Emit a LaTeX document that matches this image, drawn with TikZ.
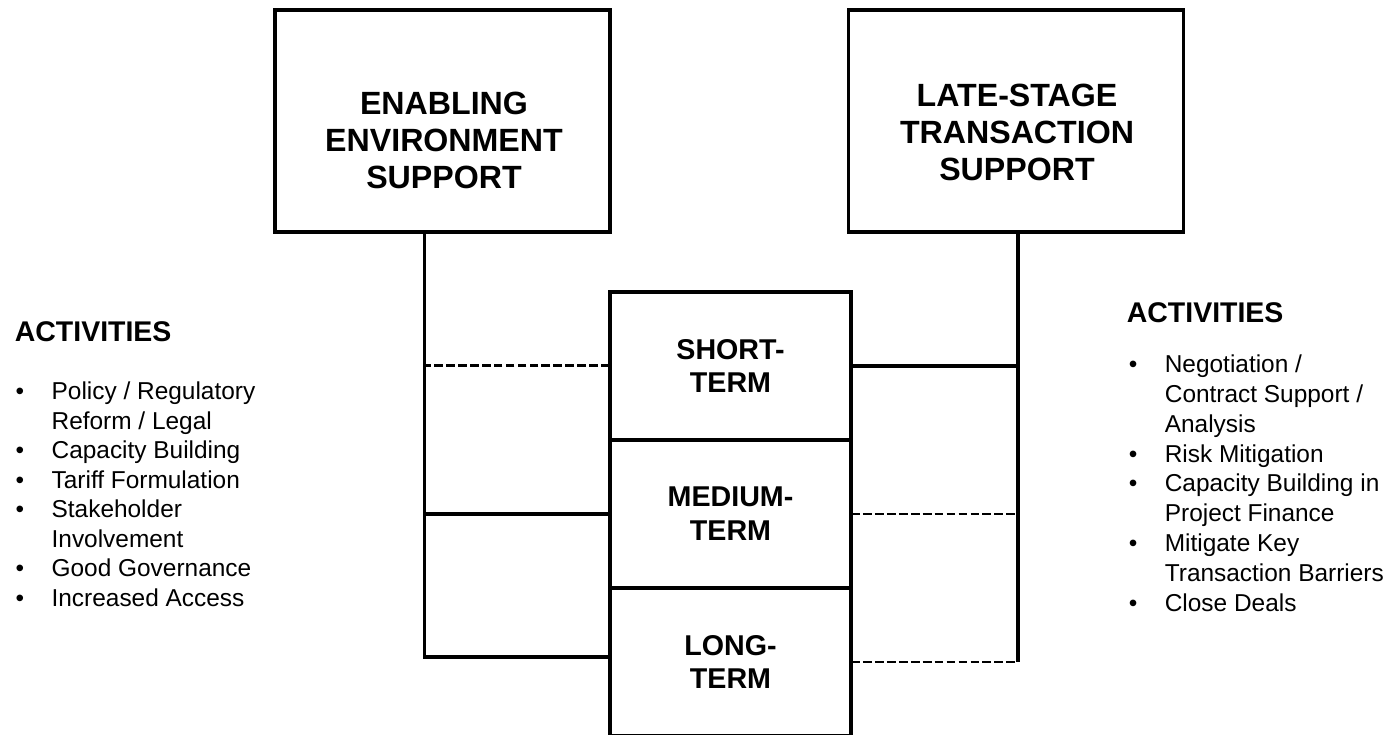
\documentclass[tikz,border=0pt]{standalone}
\usepackage{fontspec}
\setmainfont{Liberation Sans}

\tikzset{every picture/.style={line width=2.1pt}}
\tikzset{
	bigbox/.style={draw,minimum width=6.7cm,minimum height=4.44cm,inner sep=0pt,outer sep=0pt},
	termbox/.style={draw,minimum width=4.82cm,minimum height=2.96cm,inner sep=0pt,outer sep=0pt,align=center,font=\bfseries\fontsize{16.3}{19.3}\selectfont},
	headtxt/.style={align=center,inner sep=0pt,font=\bfseries\fontsize{18.3}{21}\selectfont},
	acttxt/.style={anchor=base west,inner sep=0pt,font=\bfseries\fontsize{16.2}{19}\selectfont},
	listtxt/.style={anchor=base west,inner sep=0pt},
	dashline/.style={dash pattern=on 5pt off 1.8pt,line width=1.7pt}
}

\begin{document}
\begin{tikzpicture}
	\useasboundingbox (0,0) rectangle (27.78,14.70);
	%Khung tren trai
	\node[bigbox] (enabling) at (8.85,12.28) {};
	\node[headtxt] (enablingtxt) at (8.88,11.89) {ENABLING\\ENVIRONMENT\\SUPPORT};
	%Khung tren phai
	\node[bigbox] (latestage) at (20.32,12.28) {};
	\node[headtxt] (latestagetxt) at (20.34,12.05) {LATE-STAGE\\TRANSACTION\\SUPPORT};
	%Khung giua
	\node[termbox] (short) at (14.61,7.38) {SHORT-\\TERM};
	\node[termbox] (medium) at (14.61,4.42) {MEDIUM-\\TERM};
	\node[termbox] (long) at (14.61,1.46) {LONG-\\TERM};
	%Duong trai
	\coordinate (lv) at ([xshift=-3.6mm]enabling.south);
	\draw (lv) |- ([yshift=1mm]long.west);
	\draw[dashline] (short.west) -- (short.west -| lv);
	\draw (medium.west) -- (medium.west -| lv);
	%Duong phai
	\coordinate (rv) at ([xshift=0.4mm]latestage.south);
	\draw (rv) -- (rv |- long.east);
	\draw (short.east) -- (short.east -| rv);
	\draw[dashline] (medium.east) -- (medium.east -| rv);
	\draw[dashline] (long.east) -- (long.east -| rv);
	%Hoat dong trai
	\node[acttxt] (actleft) at (0.26,7.86) {ACTIVITIES};
	\node[listtxt] (listleft) at (0.276,6.71) {\fontsize{13.9}{16.8}\selectfont
		\begin{tabular}[t]{@{}p{0.72cm}@{}l@{}}
			\textbullet & Policy / Regulatory\\
			& Reform / Legal\\
			\textbullet & Capacity Building\\
			\textbullet & Tariff Formulation\\
			\textbullet & Stakeholder\\
			& Involvement\\
			\textbullet & Good Governance\\
			\textbullet & Increased Access
		\end{tabular}};
	%Hoat dong phai
	\node[acttxt] (actright) at (22.5,8.24) {ACTIVITIES};
	\node[listtxt] (listright) at (22.54,7.25) {\fontsize{13.9}{17}\selectfont
		\begin{tabular}[t]{@{}p{0.72cm}@{}l@{}}
			\textbullet & Negotiation /\\
			& Contract Support /\\
			& Analysis\\
			\textbullet & Risk Mitigation\\
			\textbullet & Capacity Building in\\
			& Project Finance\\
			\textbullet & Mitigate Key\\
			& Transaction Barriers\\
			\textbullet & Close Deals
		\end{tabular}};
\end{tikzpicture}
\end{document}
